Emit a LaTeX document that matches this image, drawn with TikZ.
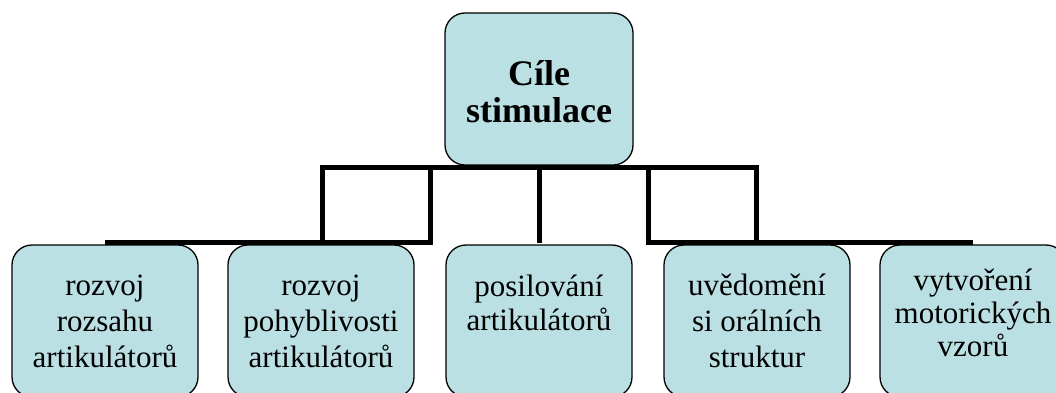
\documentclass[tikz,border=0pt]{standalone}
\usepackage{fontspec}
\setmainfont{Liberation Serif}
\usetikzlibrary{calc}
\definecolor{goalfill}{RGB}{187,224,227}

\begin{document}
\begin{tikzpicture}[x=1pt,y=-1pt,
  goal/.style={draw,line width=1.3pt,fill=goalfill,rounded corners=20pt,
    outer sep=2.5pt,inner sep=0pt,minimum width=186pt,minimum height=152pt},
  goaltext/.style={anchor=base,align=center,inner sep=0pt,
    font=\fontsize{31}{36}\selectfont},
  conn/.style={line width=5pt}]
  \useasboundingbox (0,0) rectangle (1056,392);
  \clip (0,0) rectangle (1056,392);
  % boxes
  \node[goal,minimum width=188pt] (top) at (539,89) {};
  \node[goal] (c1) at (105,321) {};
  \node[goal] (c2) at (321,321) {};
  \node[goal] (c3) at (539,321) {};
  \node[goal] (c4) at (757,321) {};
  \node[goal] (c5) at (973,321) {};
  % texts (base = last line)
  \node[goaltext,font=\fontsize{36}{37}\selectfont\bfseries] (toptext) at (539,122) {Cíle\\stimulace};
  \node[goaltext] (t1) at (105,367) {rozvoj\\rozsahu\\artikulátorů};
  \node[goaltext] (t2) at (321,367) {rozvoj\\pohyblivosti\\artikulátorů};
  \node[goaltext,font=\fontsize{31}{34}\selectfont] (t3) at (539,330) {posilování\\artikulátorů};
  \node[goaltext] (t4) at (757,367) {uvědomění\\si orálních\\struktur};
  \node[goaltext,font=\fontsize{31}{33}\selectfont] (t5) at (973,356) {vytvoření\\motorických\\vzorů};
  % connectors
  \foreach \c in {c1,c2,c3,c4,c5}
    \draw[conn] (top.south) -| ($(top.south)!.5!(\c.north)$) |- (\c.north);
\end{tikzpicture}
\end{document}
